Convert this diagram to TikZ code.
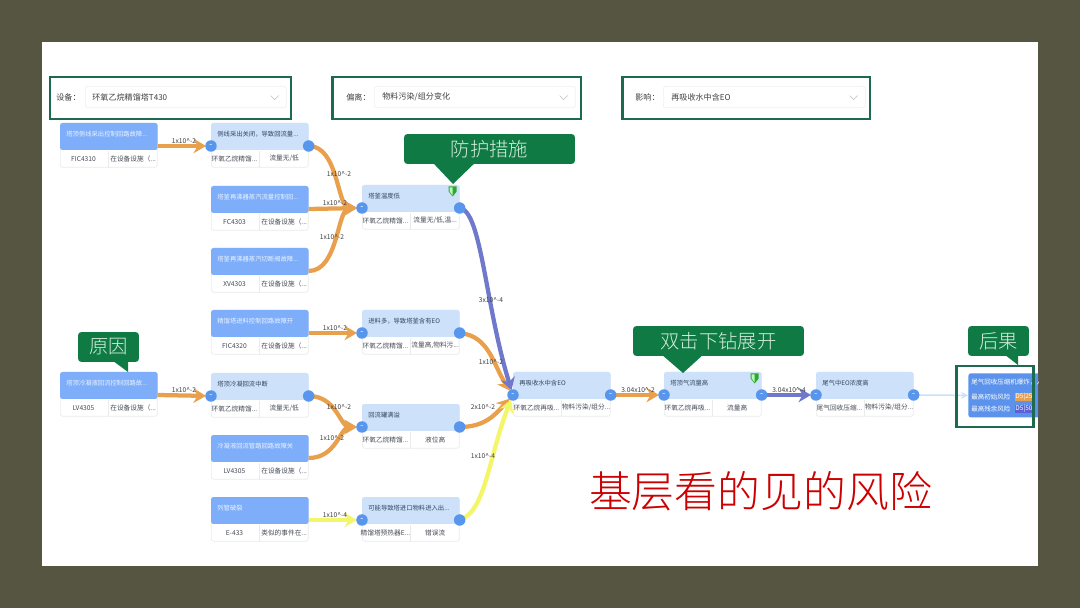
\documentclass[tikz,border=0pt]{standalone}
\usepackage{fontspec}
\setmainfont{Noto Sans CJK SC}
\newfontfamily\thincjk{Noto Sans CJK SC Light}
\usetikzlibrary{arrows.meta,positioning}
\definecolor{framebg}{RGB}{85,85,65}
\definecolor{tagGreen}{RGB}{16,122,69}
\definecolor{tagText}{RGB}{214,238,220}
\definecolor{boxGreen}{RGB}{28,107,80}
\definecolor{darkhead}{RGB}{126,174,250}
\definecolor{darktext}{RGB}{235,243,255}
\definecolor{lighthead}{RGB}{205,225,251}
\definecolor{lighttext}{RGB}{50,70,95}
\definecolor{cellgrey}{RGB}{70,75,85}
\definecolor{portblue}{RGB}{88,150,238}
\definecolor{floworange}{RGB}{232,160,76}
\definecolor{flowblue}{RGB}{112,120,204}
\definecolor{flowyellow}{RGB}{244,246,106}
\definecolor{sinkblue}{RGB}{90,146,236}
\newcommand{\fsz}[1]{\fontsize{#1}{#1}\selectfont}
\tikzset{
  cardbody/.style={draw=black!8,fill=white,rounded corners=.05cm,anchor=north west,
    minimum width=1.94cm,minimum height=.88cm,inner sep=0},
  cardtitle/.style={anchor=west,inner sep=0,font=\fsz{3.6}},
  celltext/.style={inner sep=0,text=cellgrey,font=\fsz{3.8}},
  port/.style={circle,fill=portblue,minimum size=.23cm,inner sep=0,text=white,font=\fsz{5}},
  flow/.style={line width=.085cm,shorten >=.1cm,-{Stealth[length=.25cm,width=.29cm]}},
  rate/.style={inner sep=0,text=black!75,font=\fsz{3.8}},
  tag/.style={fill=tagGreen,text=tagText,rounded corners=.07cm,
    inner sep=0,minimum height=.6cm,font=\thincjk\fsz{11}},
  pickbox/.style={draw=boxGreen,line width=.05cm,anchor=north west,minimum height=.84cm,inner sep=0},
  pickfield/.style={draw=black!6,fill=white,rounded corners=.05cm,anchor=north west,
    minimum height=.43cm,inner sep=0},
  picktext/.style={anchor=west,inner sep=0,text=black!75,font=\fsz{4.6}},
  chevron/.style={draw=black!25,line width=.012cm}
}
% one card: name, left, top, head colour, title, two cells
\newcommand{\riskcard}[7]{
  \node[cardbody] (#1) at (#2,#3) {};
  \fill[#4head,rounded corners=.05cm] (#1.north west) rectangle ([yshift=-.54cm]#1.north east);
  \draw[black!8] (#1.south) -- ++(0,-17);
  \node[cardtitle,text=#4text] (#1-t) at ([xshift=.12cm,yshift=-.22cm]#1.north west) {#5};
  \node[celltext] (#1-a) at ([xshift=.47cm,yshift=.18cm]#1.south west) {#6};
  \node[celltext] (#1-b) at ([xshift=-.49cm,yshift=.18cm]#1.south east) {#7};
  \coordinate (#1-in) at ([yshift=-.46cm]#1.north west);
  \coordinate (#1-out) at ([yshift=-.46cm]#1.north east);
}
\newcommand{\shieldmark}[1]{
  \fill[green!55!black!80] ([xshift=-.22cm,yshift=-.03cm]#1.north east) -- ++(8,0) -- ++(0,5) -- ++(-4,5) -- ++(-4,-5) -- cycle;
  \fill[white!70!green] ([xshift=-.14cm,yshift=-.05cm]#1.north east) -- ++(-3,0) -- ++(0,4) -- ++(3,4) -- cycle;
}
% pointer under a tag: tag, base left, base right, tip
\newcommand{\tagtip}[4]{
  \fill[tagGreen] ([yshift=.03cm]#1.south -| #2,0) -- (#4) -- ([yshift=.03cm]#1.south -| #3,0) -- cycle;
}
\begin{document}
\begin{tikzpicture}[x=.02cm,y=-.02cm]
  \useasboundingbox (0,0) rectangle (1080,608);
  \fill[framebg] (0,0) rectangle (1080,608);
  \fill[white] (42,42) rectangle (1038,566);
  % Filter row
  \node[pickbox,minimum width=4.82cm] (devbox) at (49,76) {};
  \node[pickfield,minimum width=4.02cm] (devfield) at (85,86) {};
  \node[picktext] (devname) at (56,97) {设备：};
  \node[picktext] (devval) at (92,97) {环氧乙烷精馏塔T430};
  \node[pickbox,minimum width=4.98cm] (devibox) at (331,76) {};
  \node[pickfield,minimum width=4.02cm] (devifield) at (374,86) {};
  \node[picktext] (deviname) at (346,97) {偏离：};
  \node[picktext] (devival) at (382,97) {物料污染/组分变化};
  \node[pickbox,minimum width=4.96cm] (impbox) at (621,76) {};
  \node[pickfield,minimum width=4.04cm] (impfield) at (663,86) {};
  \node[picktext] (impname) at (635,97) {影响：};
  \node[picktext] (impval) at (671,97) {再吸收水中含EO};
  \foreach \n in {devfield,devifield,impfield}
    \draw[chevron] ([xshift=-.32cm,yshift=.03cm]\n.east) -- ++(4,4) -- ++(4,-4);
  % Cards
  \riskcard{fic4310}{60}{123}{dark}{塔顶侧线采出控制回路故障...}{FIC4310}{在设备设施（...}
  \riskcard{sidedraw}{211}{123}{light}{侧线采出关闭，导致回流量...}{环氧乙烷精馏...}{流量无/低}
  \riskcard{fc4303}{211}{186}{dark}{塔釜再沸器蒸汽流量控制回...}{FC4303}{在设备设施（...}
  \riskcard{xv4303}{211}{248}{dark}{塔釜再沸器蒸汽切断阀故障...}{XV4303}{在设备设施（...}
  \riskcard{lowtemp}{362}{185}{light}{塔釜温度低}{环氧乙烷精馏...}{流量无/低,温...}
  \riskcard{fic4320}{211}{310}{dark}{精馏塔进料控制回路故障开}{FIC4320}{在设备设施（...}
  \riskcard{feedeo}{362}{310}{light}{进料多，导致塔釜含有EO}{环氧乙烷精馏...}{流量高,物料污...}
  \riskcard{lv4305a}{60}{372}{dark}{塔顶冷凝液回流控制回路故...}{LV4305}{在设备设施（...}
  \riskcard{refluxstop}{211}{373}{light}{塔顶冷凝回流中断}{环氧乙烷精馏...}{流量无/低}
  \riskcard{lv4305b}{211}{435}{dark}{冷凝液回流管路回路故障关}{LV4305}{在设备设施（...}
  \riskcard{drumfull}{362}{404}{light}{回流罐满溢}{环氧乙烷精馏...}{液位高}
  \riskcard{e433}{211}{497}{dark}{列管破裂}{E-433}{类似的事件在...}
  \riskcard{wrongflow}{362}{497}{light}{可能导致塔进口物料进入出...}{精馏塔预热器E...}{错误流}
  \riskcard{absorb}{513}{372}{light}{再吸收水中含EO}{环氧乙烷再吸...}{物料污染/组分...}
  \riskcard{topflow}{664}{372}{light}{塔顶气流量高}{环氧乙烷再吸...}{流量高}
  \riskcard{ventflow}{816}{372}{light}{尾气中EO浓度高}{尾气回收压缩...}{物料污染/组分...}
  \shieldmark{lowtemp}
  \shieldmark{topflow}
  % Last card runs off the sheet
  \begin{scope}
    \clip (42,42) rectangle (1038,566);
    \node[cardbody,draw=none,fill=sinkblue,minimum width=1.6cm] (sink) at (968,373) {};
    \node[cardtitle,text=white,font=\fsz{3.7}] (sink-t) at (971,382) {尾气回收压缩机爆炸，人员伤亡};
  \end{scope}
  \node[cardtitle,text=white,font=\fsz{3.7}] (sink-a) at (971,397) {最高初始风险};
  \node[cardtitle,text=white,font=\fsz{3.7}] (sink-b) at (971,409) {最高残余风险};
  \node[fill=floworange,text=white,inner sep=0,minimum width=.32cm,minimum height=.18cm,font=\fsz{3.7}] (sink-c) at (1024,397) {D5|25};
  \node[fill=flowblue!80!blue,text=white,inner sep=0,minimum width=.32cm,minimum height=.18cm,font=\fsz{3.7}] (sink-d) at (1024,409) {D5|50};
  % Flows
  \draw[flow,floworange] (fic4310-out) -- (sidedraw-in);
  \draw[flow,floworange] (lv4305a-out) -- (refluxstop-in);
  \draw[flow,floworange] (sidedraw-out) .. controls +(30,0) and +(-25,0) .. (lowtemp-in);
  \draw[flow,floworange] (fc4303-out) -- (lowtemp-in);
  \draw[flow,floworange] (xv4303-out) .. controls +(30,0) and +(-25,0) .. (lowtemp-in);
  \draw[flow,floworange] (fic4320-out) -- (feedeo-in);
  \draw[flow,floworange] (refluxstop-out) .. controls +(28,0) and +(-22,0) .. (drumfull-in);
  \draw[flow,floworange] (lv4305b-out) .. controls +(28,0) and +(-22,0) .. (drumfull-in);
  \draw[flow,flowyellow] (e433-out) -- (wrongflow-in);
  \draw[flow,floworange] (feedeo-out) .. controls +(30,3) and +(-20,-30) .. (absorb-in);
  \draw[flow,floworange] (drumfull-out) .. controls +(25,0) and +(-18,20) .. (absorb-in);
  \draw[flow,flowblue] (lowtemp-out) .. controls +(22,3) and +(-28,-90) .. (absorb-in);
  \draw[flow,flowyellow] (wrongflow-out) .. controls +(26,-8) and +(-24,60) .. (absorb-in);
  \draw[flow,floworange] (absorb-out) -- (topflow-in);
  \draw[flow,flowblue] (topflow-out) -- (ventflow-in);
  \draw[-{Stealth[length=.14cm,width=.14cm]},lighthead,line width=.03cm] (ventflow-out) -- (sink.west);
  % Ports
  \foreach \n in {sidedraw,lowtemp,feedeo,refluxstop,drumfull,wrongflow,absorb,topflow,ventflow}
    \node[port] (\n-pi) at (\n-in) {-};
  \foreach \n in {sidedraw,lowtemp,feedeo,refluxstop,drumfull,wrongflow}
    \node[port] (\n-po) at (\n-out) {};
  \foreach \n in {absorb,topflow,ventflow}
    \node[port] (\n-po) at (\n-out) {-};
  % Rates
  \node[rate] (r1) at (184,141) {1x10\^{}-2};
  \node[rate] (r2) at (184,390) {1x10\^{}-2};
  \node[rate] (r3) at (339,174) {1x10\^{}-2};
  \node[rate] (r4) at (335,203) {1x10\^{}-2};
  \node[rate] (r5) at (332,237) {1x10\^{}-2};
  \node[rate] (r6) at (335,328) {1x10\^{}-2};
  \node[rate] (r7) at (339,407) {1x10\^{}-2};
  \node[rate] (r8) at (332,438) {1x10\^{}-2};
  \node[rate] (r9) at (335,515) {1x10\^{}-4};
  \node[rate] (r10) at (491,300) {3x10\^{}-4};
  \node[rate] (r11) at (491,362) {1x10\^{}-2};
  \node[rate] (r12) at (483,407) {2x10\^{}-2};
  \node[rate] (r13) at (483,456) {1x10\^{}-4};
  \node[rate] (r14) at (638,390) {3.04x10\^{}-2};
  \node[rate] (r15) at (789,390) {3.04x10\^{}-4};
  % Tags
  \coordinate (tipguard) at (453,184);
  \coordinate (tipcause) at (128,372);
  \coordinate (tipdrill) at (683,373);
  \coordinate (tipresult) at (1018,365);
  \node[tag,minimum width=3.42cm] (tagguard) at (489.5,149) {防护措施};
  \tagtip{tagguard}{433}{475}{tipguard}
  \node[tag,minimum width=1.22cm] (tagcause) at (108.5,347) {原因};
  \tagtip{tagcause}{113}{128}{tipcause}
  \node[tag,minimum width=3.42cm] (tagdrill) at (718.5,341) {双击下钻展开};
  \tagtip{tagdrill}{662}{703}{tipdrill}
  \node[tag,minimum width=1.22cm] (tagresult) at (998.5,341) {后果};
  \tagtip{tagresult}{1005}{1018}{tipresult}
  % Outcome frame and slogan
  \node[pickbox,minimum width=1.55cm,minimum height=1.22cm] (sinkbox) at (955,365) {};
  \node[text=red!80!black,inner sep=0,font=\thincjk\fsz{24.4}] (slogan) at (760.5,491) {基层看的见的风险};
\end{tikzpicture}
\end{document}
